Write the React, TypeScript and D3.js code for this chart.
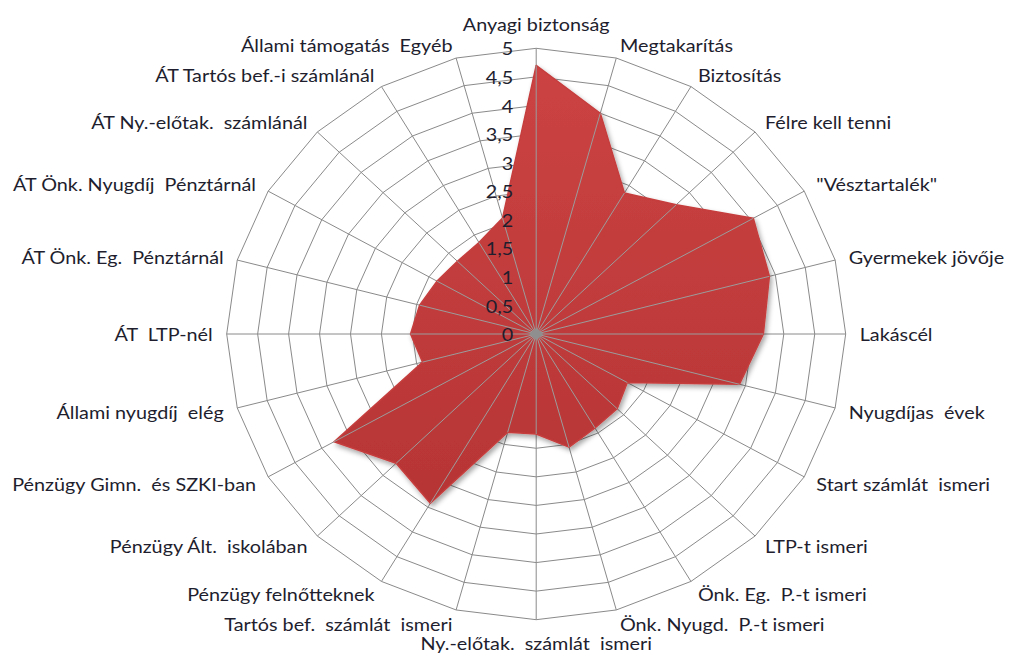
import React from "react";
import * as d3 from "d3";

const categories: string[] = [
  "Anyagi biztonság",
  "Megtakarítás",
  "Biztosítás",
  "Félre kell tenni",
  "\"Vésztartalék\"",
  "Gyermekek jövője",
  "Lakáscél",
  "Nyugdíjas  évek",
  "Start számlát  ismeri",
  "LTP-t ismeri",
  "Önk. Eg.  P.-t ismeri",
  "Önk. Nyugd.  P.-t ismeri",
  "Ny.-előtak.  számlát  ismeri",
  "Tartós bef.  számlát  ismeri",
  "Pénzügy felnőtteknek",
  "Pénzügy Ált.  iskolában",
  "Pénzügy Gimn.  és SZKI-ban",
  "Állami nyugdíj  elég",
  "ÁT  LTP-nél",
  "ÁT Önk. Eg.  Pénztárnál",
  "ÁT Önk. Nyugdíj  Pénztárnál",
  "ÁT Ny.-előtak.  számlánál",
  "ÁT Tartós bef.-i számlánál",
  "Állami támogatás  Egyéb",
];

const values: number[] = [
  4.7, 4.0, 2.85, 3.2, 4.05, 3.9, 3.67, 3.4, 1.7, 1.85, 1.9, 2.05,
  1.75, 1.78, 3.42, 3.2, 3.77, 1.9, 2.03, 1.95, 1.85, 1.8, 1.85, 2.1,
];

const tickValues: number[] = [0, 0.5, 1, 1.5, 2, 2.5, 3, 3.5, 4, 4.5, 5];

const W = 1014;
const H = 653;
const cx = 536.2;
const cy = 334;
const rx = 309.5;
const ry = 285.7;
const FONT = "Lato, 'Open Sans', sans-serif";
const SX = 1.1;
const FS = 18;

export default function App() {
  const n = categories.length;
  const r = d3.scaleLinear().domain([0, 5]).range([0, 1]);
  const ang = d3
    .scaleLinear()
    .domain([0, n])
    .range([0, 2 * Math.PI]);

  const pt = (i: number, v: number): [number, number] => {
    const a = ang(i);
    const f = r(v);
    return [cx + f * rx * Math.sin(a), cy - f * ry * Math.cos(a)];
  };

  const ringPath = (v: number) =>
    d3.line()(d3.range(n + 1).map((i) => pt(i % n, v))) as string;

  const shapePath =
    (d3.line()(values.map((v, i) => pt(i, v))) as string) + "Z";

  const fmt = (v: number) => d3.format("")(v).replace(".", ",");

  const gridColor = "#8a8a8a";

  return (
    <div style={{ position: "absolute", left: 0, top: 0 }}>
      <svg width={W} height={H} style={{ display: "block", background: "#fff" }}>
        <defs>
          <linearGradient id="redfill" x1="0" y1="0" x2="0" y2="1">
            <stop offset="0%" stopColor="#CC4343" />
            <stop offset="100%" stopColor="#B73535" />
          </linearGradient>
          <filter id="shadow" x="-10%" y="-10%" width="130%" height="130%">
            <feDropShadow dx="2" dy="3" stdDeviation="2.5" floodColor="#000" floodOpacity="0.35" />
          </filter>
        </defs>

        {tickValues.slice(1).map((v) => (
          <path key={"ring" + v} d={ringPath(v)} fill="none" stroke={gridColor} strokeWidth={1} />
        ))}
        {categories.map((_, i) => {
          const [x, y] = pt(i, 5);
          return <line key={"sp" + i} x1={cx} y1={cy} x2={x} y2={y} stroke={gridColor} strokeWidth={1} />;
        })}

        <path
          d={shapePath}
          fill="url(#redfill)"
          stroke="#C63E3E"
          strokeWidth={1.5}
          strokeLinejoin="round"
          filter="url(#shadow)"
        />

        {categories.map((_, i) => {
          const [x, y] = pt(i, values[i]);
          return <line key={"sp2" + i} x1={cx} y1={cy} x2={x} y2={y} stroke="#9c9c9c" strokeWidth={1} />;
        })}

        <path
          d={`M${cx - 7},${cy} L${cx},${cy - 6} L${cx + 7},${cy} L${cx},${cy + 6} Z`}
          fill="#8f8f8f"
        />

        {tickValues.map((v) => {
          const [, y] = pt(0, v);
          return (
            <text
              key={"t" + v}
              transform={`translate(${cx - 23},${y}) scale(${SX},1)`}
              textAnchor="end"
              dominantBaseline="central"
              fontFamily={FONT}
              fontSize={FS}
              fill="#1e1e2e"
            >
              {fmt(v)}
            </text>
          );
        })}

        {categories.map((c, i) => {
          const a = ang(i);
          const s = Math.sin(a);
          const co = Math.cos(a);
          const [vx, vy] = pt(i, 5);
          const d = 14;
          const px = vx + d * s;
          let py = vy - d * co;
          let anchor = "middle";
          if (Math.abs(s) < 1e-6) {
            py += co > 0 ? -10 : 9;
          } else {
            anchor = s > 0 ? "start" : "end";
          }
          return (
            <text
              key={"c" + i}
              transform={`translate(${px},${py}) scale(${SX},1)`}
              textAnchor={anchor}
              dominantBaseline="central"
              fontFamily={FONT}
              fontSize={FS}
              fill="#1e1e2e"
              style={{ whiteSpace: "pre" }}
            >
              {c}
            </text>
          );
        })}
      </svg>
    </div>
  );
}
